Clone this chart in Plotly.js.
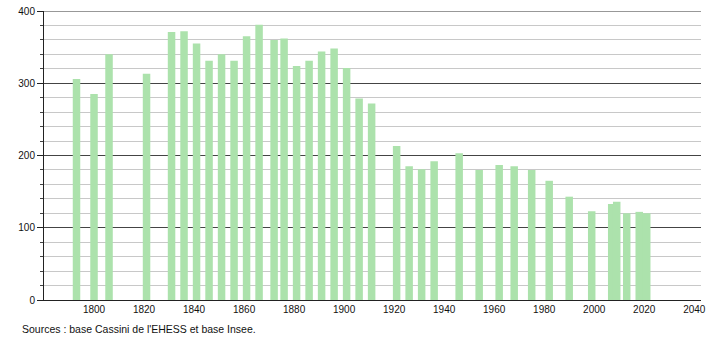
<!DOCTYPE html>
<html>
<head>
<meta charset="utf-8">
<script src="https://cdn.plot.ly/plotly-3.0.1.min.js"></script>
<style>html,body{margin:0;padding:0;background:#fff;}#chart{width:710px;height:340px;}</style>
</head>
<body>
<div id="chart"></div>
<script>
const years = [1793,1800,1806,1821,1831,1836,1841,1846,1851,1856,1861,1866,1872,1876,1881,1886,1891,1896,1901,1906,1911,1921,1926,1931,1936,1946,1954,1962,1968,1975,1982,1990,1999,2007,2009,2013,2018,2021];
const population = [306,285,340,313,371,372,355,331,340,331,365,381,360,362,324,331,344,348,321,279,272,213,185,181,192,203,180,187,185,180,165,143,123,133,136,120,122,120];
const yTicks = [0,100,200,300,400];
const xTicks = [1800,1820,1840,1860,1880,1900,1920,1940,1960,1980,2000,2020,2040];
const sourceText = "Sources : base Cassini de l'EHESS et base Insee.";

const trace = {
  type: 'bar',
  x: years,
  y: population,
  width: years.map(() => 3),
  marker: {color: 'rgb(172,226,172)', line: {width: 0}},
  hoverinfo: 'x+y'
};

const layout = {
  width: 710, height: 340,
  margin: {l: 44, r: 9, t: 11, b: 40},
  paper_bgcolor: '#fff', plot_bgcolor: '#fff',
  showlegend: false,
  font: {family: 'Liberation Sans, Arial, sans-serif', size: 10, color: '#111'},
  xaxis: {
    range: [1780, 2042.7],
    tickvals: xTicks,
    ticktext: xTicks.map(String),
    showgrid: false, zeroline: false,
    showline: true, linecolor: '#222', linewidth: 1,
    ticks: '', ticklen: 0,
    tickfont: {size: 10}
  },
  yaxis: {
    range: [0, 400],
    tickvals: yTicks,
    showgrid: true, gridcolor: '#444', gridwidth: 1,
    zeroline: false,
    showline: true, linecolor: '#222', linewidth: 1,
    ticks: 'outside', ticklen: 6, tickcolor: '#222',
    tickfont: {size: 10},
    minor: {dtick: 20, showgrid: true, gridcolor: '#c8c8c8', gridwidth: 1, ticks: 'outside', ticklen: 3, tickcolor: '#444'}
  },
  shapes: [{type: 'line', xref: 'paper', yref: 'y', x0: 0, x1: 1, y0: 400, y1: 400, line: {color: '#333', width: 1}}],
  annotations: [{
    text: sourceText, xref: 'paper', yref: 'paper', x: -0.036, y: -0.0727,
    xanchor: 'left', yanchor: 'top', showarrow: false,
    font: {size: 10.5, color: '#111'}
  }]
};

Plotly.newPlot('chart', [trace], layout, {displayModeBar: false, staticPlot: true});
</script>
</body>
</html>
